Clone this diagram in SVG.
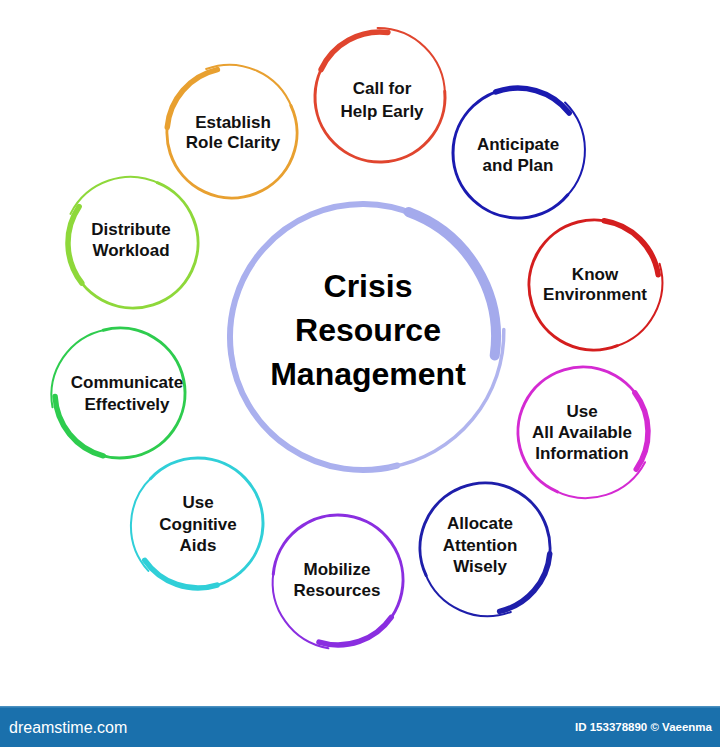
<svg xmlns="http://www.w3.org/2000/svg" width="720" height="747" viewBox="0 0 720 747">
<style>
.ring{fill:none;stroke-width:3;stroke-linecap:round}
.thick{fill:none;stroke-width:5.5;stroke-linecap:round}
.tail{fill:none;stroke-width:2;stroke-linecap:round}
.lbl{font-family:"Liberation Sans",Arial,sans-serif;font-weight:bold;font-size:17px;fill:#111;text-anchor:middle}
.big{font-family:"Liberation Sans",Arial,sans-serif;font-weight:bold;font-size:32px;fill:#000;text-anchor:middle}
</style>
<defs>
<g id="hand">
<path class="ring" d="M64.01,-11.29 A65,65 0 1 1 0,-65"/>
<path class="thick" d="M-61.08,-22.23 A65,65 0 0 1 2.27,-64.96"/>
<path class="tail" d="M-8.41,-68.49 A67,67 0 0 1 64.37,-9.05"/>
</g>
</defs>
<rect width="720" height="747" fill="#ffffff"/>
<g id="connectors"/>
<g id="center">
<path d="M397.4,465.5 A133,133 0 1 1 494.7,355.5" fill="none" stroke="#aab0ee" stroke-width="6" stroke-linecap="round"/>
<path d="M408.5,212 A133,133 0 0 1 494.7,355.5" fill="none" stroke="#a4aaec" stroke-width="10" stroke-linecap="round"/>
<path d="M503.8,329.6 A137,137 0 0 1 390.7,467.1" fill="none" stroke="#b0b4ee" stroke-width="3.5" stroke-linecap="round"/>
<text class="big" x="368" y="297">Crisis</text>
<text class="big" x="368" y="341">Resource</text>
<text class="big" x="368" y="385">Management</text>
</g>
<g id="n-call" stroke="#e0452e">
<use href="#hand" transform="translate(380,97) rotate(5)"/>
<text class="lbl" stroke="none" x="382" y="94">Call for</text>
<text class="lbl" stroke="none" x="382" y="117">Help Early</text>
</g>
<g id="n-anticipate" stroke="#1a1ab0">
<use href="#hand" transform="translate(518,153) rotate(50)"/>
<text class="lbl" stroke="none" x="518" y="150">Anticipate</text>
<text class="lbl" stroke="none" x="518" y="171">and Plan</text>
</g>
<g id="n-know" stroke="#d41e1e">
<use href="#hand" transform="translate(594,285) rotate(79)"/>
<text class="lbl" stroke="none" x="595" y="280">Know</text>
<text class="lbl" stroke="none" x="595" y="300">Environment</text>
</g>
<g id="n-useall" stroke="#d42ad2">
<use href="#hand" transform="translate(583,432) rotate(123)"/>
<text class="lbl" stroke="none" x="582" y="417">Use</text>
<text class="lbl" stroke="none" x="582" y="438">All Available</text>
<text class="lbl" stroke="none" x="582" y="459">Information</text>
</g>
<g id="n-allocate" stroke="#1e1eaa">
<use href="#hand" transform="translate(485,548) rotate(165)"/>
<text class="lbl" stroke="none" x="480" y="529">Allocate</text>
<text class="lbl" stroke="none" x="480" y="551">Attention</text>
<text class="lbl" stroke="none" x="480" y="572">Wisely</text>
</g>
<g id="n-mobilize" stroke="#8a2ee0">
<use href="#hand" transform="translate(338,580) rotate(195)"/>
<text class="lbl" stroke="none" x="337" y="575">Mobilize</text>
<text class="lbl" stroke="none" x="337" y="596">Resources</text>
</g>
<g id="n-cognitive" stroke="#30cfd8">
<use href="#hand" transform="translate(198,523) rotate(233)"/>
<text class="lbl" stroke="none" x="198" y="508">Use</text>
<text class="lbl" stroke="none" x="198" y="530">Cognitive</text>
<text class="lbl" stroke="none" x="198" y="551">Aids</text>
</g>
<g id="n-communicate" stroke="#2ecc4e">
<use href="#hand" transform="translate(120,393) rotate(265)"/>
<text class="lbl" stroke="none" x="127" y="388">Communicate</text>
<text class="lbl" stroke="none" x="127" y="410">Effectively</text>
</g>
<g id="n-distribute" stroke="#8ed83a">
<use href="#hand" transform="translate(133,243) rotate(302)"/>
<text class="lbl" stroke="none" x="131" y="235">Distribute</text>
<text class="lbl" stroke="none" x="131" y="256">Workload</text>
</g>
<g id="n-establish" stroke="#e8a030">
<use href="#hand" transform="translate(232,133) rotate(-15)"/>
<text class="lbl" stroke="none" x="233" y="128">Establish</text>
<text class="lbl" stroke="none" x="233" y="148">Role Clarity</text>
</g>
<g id="footer">
<rect x="0" y="706" width="720" height="41" fill="#1a70ac"/>
<rect x="0" y="706" width="720" height="1.5" fill="#4a90c0"/>
<text x="9" y="733" font-family="'Liberation Sans',Arial,sans-serif" font-size="16" fill="#ffffff">dreamstime.com</text>
<text x="712" y="731" text-anchor="end" font-family="'Liberation Sans',Arial,sans-serif" font-weight="bold" font-size="11.5" fill="#ffffff">ID 153378890 © Vaeenma</text>
</g>
</svg>
